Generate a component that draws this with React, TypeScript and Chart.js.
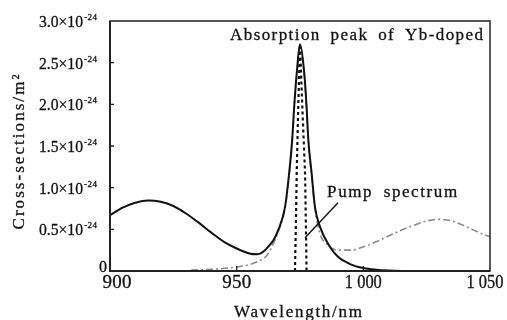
import React, { useEffect, useRef } from "react";
import { Chart, registerables } from "chart.js";

Chart.register(...registerables);

// ---- data (cross-sections in units of 1e-24 m^2) ----
const absWavelength = [900, 905, 910, 915, 920, 925, 930, 935, 940, 945, 950, 955, 958, 960, 962.4, 964.5, 966.4, 969.1, 970.7, 971.9, 972.7, 973.7, 975, 976.7, 977.6, 978.3, 979.6, 980.9, 982.9, 986.8, 990, 995, 1000, 1005, 1010, 1018];
const absValues = [0.67, 0.76, 0.82, 0.845, 0.83, 0.78, 0.69, 0.58, 0.46, 0.35, 0.27, 0.21, 0.2, 0.22, 0.29, 0.37, 0.49, 0.77, 1.17, 1.57, 1.97, 2.37, 2.72, 2.37, 1.97, 1.57, 1.17, 0.77, 0.53, 0.29, 0.17, 0.08, 0.035, 0.015, 0.005, 0];

const emWavelength = [932, 940, 948, 954, 958, 962, 964.5, 966.4, 969.1, 970.7, 971.9, 972.7, 973.7, 975, 976.7, 977.6, 978.3, 979.6, 980.9, 982.9, 986, 990, 995, 1000, 1005, 1010, 1015, 1020, 1025, 1030, 1035, 1040, 1045, 1050];
const emValues = [0.01, 0.02, 0.04, 0.07, 0.11, 0.19, 0.33, 0.47, 0.75, 1.14, 1.54, 1.94, 2.34, 2.68, 2.34, 1.94, 1.54, 1.14, 0.75, 0.45, 0.31, 0.25, 0.25, 0.29, 0.35, 0.42, 0.49, 0.55, 0.6, 0.62, 0.6, 0.54, 0.47, 0.41];

const pumpWavelength = [973.0, 973.4, 973.7, 974.3, 975.0, 975.9, 977.0, 977.3, 977.6];
const pumpValues = [0, 0.6, 1.17, 1.97, 2.72, 1.97, 1.17, 0.6, 0];

const xTicks = [900, 950, 1000, 1050];
const xTickLabels = ["900", "950", "1 000", "1 050"];
const yTicks = [0, 0.5, 1.0, 1.5, 2.0, 2.5, 3.0];
const yTickLabels = ["0", "0.5", "1.0", "1.5", "2.0", "2.5", "3.0"];

const titleText = "Absorption peak of Yb-doped";
const pumpText = "Pump spectrum";
const xTitle = "Wavelength/nm";
const yTitle = "Cross-sections/m²";

const FONT = '"Liberation Serif", Tinos, "Times New Roman", Times, serif';

// draws text of given size so that it spans `width` px, spreading the extra room
// between letters and word gaps (wordShare = fraction going to word gaps)
function drawText(
  ctx: CanvasRenderingContext2D,
  text: string,
  x: number,
  y: number,
  size: number,
  width: number,
  align: "left" | "center" | "right",
  wordShare = 0,
  rotate = false
) {
  ctx.save();
  ctx.font = `${size}px ${FONT}`;
  const c: any = ctx;
  c.letterSpacing = "0px";
  c.wordSpacing = "0px";
  const m = ctx.measureText(text).width || 1;
  const spaces = (text.match(/ /g) || []).length;
  let extra = width - m;
  let sx = 1;
  if (extra < 0) {
    sx = width / m;
    extra = 0;
  }
  const ws = spaces > 0 ? (extra * wordShare) / spaces : 0;
  const ls = (extra - ws * spaces) / Math.max(1, text.length - 1);
  c.letterSpacing = `${ls}px`;
  c.wordSpacing = `${ws}px`;
  const w = (ctx.measureText(text).width - ls) * sx;
  ctx.translate(x, y);
  if (rotate) ctx.rotate(-Math.PI / 2);
  const start = align === "left" ? 0 : align === "center" ? -w / 2 : -w;
  ctx.translate(start, 0);
  ctx.scale(sx, 1);
  ctx.textAlign = "left";
  ctx.textBaseline = "alphabetic";
  ctx.fillStyle = "#111";
  ctx.strokeStyle = "#111";
  ctx.lineWidth = 0.3;
  ctx.fillText(text, 0, 0);
  ctx.strokeText(text, 0, 0);
  ctx.restore();
}

const decorPlugin = {
  id: "decor",
  afterDraw(chart: any) {
    const ctx: CanvasRenderingContext2D = chart.ctx;
    const { left, right, top, bottom } = chart.chartArea;
    const xs = chart.scales.x;
    const ys = chart.scales.y;
    ctx.save();
    // frame
    ctx.strokeStyle = "#222";
    ctx.lineWidth = 1.5;
    ctx.strokeRect(left, top, right - left, bottom - top);
    ctx.lineWidth = 2;
    ctx.beginPath();
    ctx.moveTo(left, top);
    ctx.lineTo(left, bottom);
    ctx.lineTo(right, bottom);
    ctx.stroke();
    // inward ticks
    ctx.lineWidth = 1.3;
    ctx.beginPath();
    yTicks.forEach((v) => {
      if (v === 0 || v === 3) return;
      const py = ys.getPixelForValue(v);
      ctx.moveTo(left, py);
      ctx.lineTo(left + 4, py);
    });
    xTicks.forEach((v, i) => {
      if (i === 0 || i === xTicks.length - 1) return;
      const px = xs.getPixelForValue(v);
      ctx.moveTo(px, bottom);
      ctx.lineTo(px, bottom - 5);
    });
    ctx.stroke();

    // y tick labels
    yTicks.forEach((v, i) => {
      const py = ys.getPixelForValue(v);
      if (v === 0) {
        drawText(ctx, "0", left - 3, bottom + 1, 16, 8, "right");
        return;
      }
      const mainRight = left - 27;
      drawText(ctx, yTickLabels[i] + "×10", mainRight, py + 6, 16, 44, "right");
      drawText(ctx, "-24", mainRight + 1, py - 1, 9, 13, "left");
    });

    // x tick labels
    xTicks.forEach((v, i) => {
      let px = xs.getPixelForValue(v);
      if (i === 0) px += 7;
      if (i === xTicks.length - 1) px -= 5;
      const w = xTickLabels[i].length > 3 ? 37 : 29;
      drawText(ctx, xTickLabels[i], px, bottom + 17, 19, w, "center");
    });

    // axis titles
    drawText(ctx, xTitle, (left + right) / 2 - 2, 317, 17, 128, "center");
    drawText(ctx, yTitle, 24, 152, 17, 155, "center", 0, true);

    // chart title inside plot
    drawText(ctx, titleText, 230, 40, 17, 253, "left", 0.25);

    // pump annotation
    ctx.strokeStyle = "#111";
    ctx.lineWidth = 1.4;
    ctx.beginPath();
    ctx.moveTo(xs.getPixelForValue(977.0), ys.getPixelForValue(0.4));
    ctx.lineTo(xs.getPixelForValue(990.0), ys.getPixelForValue(0.82));
    ctx.stroke();
    drawText(ctx, pumpText, xs.getPixelForValue(985.7), ys.getPixelForValue(0.89), 17, 130, "left", 0.2);
    ctx.restore();
  },
};

function toPoints(xs: number[], ys: number[]) {
  return xs.map((x, i) => ({ x, y: ys[i] }));
}

export default function App() {
  const ref = useRef<HTMLCanvasElement | null>(null);
  useEffect(() => {
    if (!ref.current) return;
    const chart = new Chart(ref.current, {
      type: "line",
      data: {
        datasets: [
          {
            label: "Absorption",
            data: toPoints(absWavelength, absValues),
            borderColor: "#111",
            borderWidth: 2,
            pointRadius: 0,
            cubicInterpolationMode: "monotone",
            fill: false,
          },
          {
            label: "Pump",
            data: toPoints(pumpWavelength, pumpValues),
            borderColor: "#111",
            borderWidth: 2.2,
            borderDash: [3, 3],
            pointRadius: 0,
            tension: 0,
            fill: false,
          },
          {
            label: "Emission",
            data: toPoints(emWavelength, emValues),
            borderColor: "#8a8a8a",
            borderWidth: 1.6,
            borderDash: [7, 3, 2, 3],
            pointRadius: 0,
            cubicInterpolationMode: "monotone",
            fill: false,
          },
        ],
      },
      options: {
        animation: false,
        responsive: false,
        devicePixelRatio: 1,
        layout: { padding: { top: 21, right: 17, left: 0, bottom: 0 } },
        plugins: { legend: { display: false }, tooltip: { enabled: false } },
        scales: {
          x: {
            type: "linear",
            min: 900,
            max: 1050,
            grid: { display: false },
            border: { display: false },
            ticks: { display: false },
            afterFit: (s: any) => {
              s.height = 49;
            },
          },
          y: {
            min: 0,
            max: 3,
            grid: { display: false },
            border: { display: false },
            ticks: { display: false },
            afterFit: (s: any) => {
              s.width = 110;
            },
          },
        },
      },
      plugins: [decorPlugin],
    } as any);
    return () => chart.destroy();
  }, []);
  return (
    <div style={{ position: "fixed", left: 0, top: 0, width: 507, height: 320, background: "#fff" }}>
      <canvas ref={ref} width={507} height={320} style={{ width: 507, height: 320, display: "block" }} />
    </div>
  );
}
